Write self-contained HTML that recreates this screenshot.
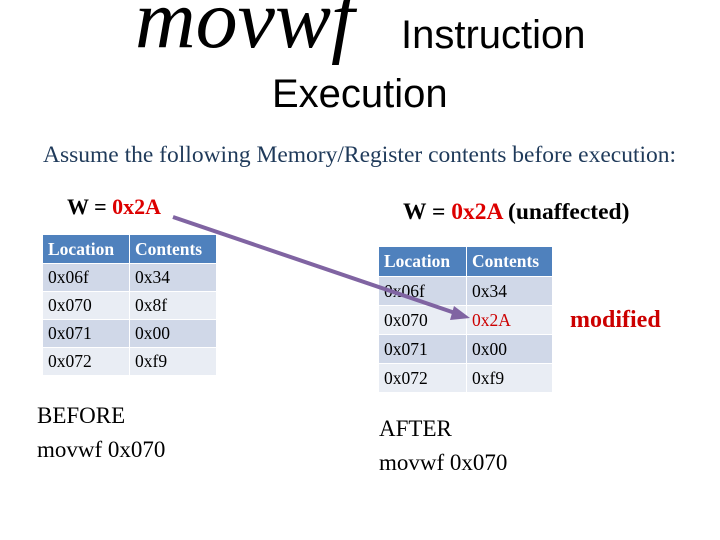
<!DOCTYPE html>
<html><head><style>
body{margin:0;width:720px;height:540px;background:#fff;position:relative;overflow:hidden;font-family:"Liberation Serif",serif}
.a{position:absolute;white-space:nowrap}
table{position:absolute;border-collapse:collapse;font-family:"Liberation Serif",serif;font-size:17.5px;table-layout:fixed}
td{border:1.5px solid #fff;padding:0 0 0 5px;height:28px;color:#000;box-sizing:border-box}
th{background:#4f81bd;color:#fff;text-align:left;font-weight:bold;padding:0 0 0 5px;border:1.5px solid #fff;height:29px;box-sizing:border-box}
tr.o td{background:#d0d8e8}tr.e td{background:#e9edf4}
</style></head><body>
<div class="a" style="left:135px;top:-22px;font-size:84px;line-height:1;font-style:italic;font-family:'Liberation Serif',serif">movwf</div>
<div class="a" style="left:401px;top:13px;font-size:40px;font-family:'Liberation Sans',sans-serif">Instruction</div>
<div class="a" style="left:272px;top:72px;font-size:40px;font-family:'Liberation Sans',sans-serif">Execution</div>
<div class="a" style="left:43px;top:142px;font-size:23.5px;color:#1f3a5a">Assume the following Memory/Register contents before execution:</div>
<div class="a" style="left:67px;top:194px;font-size:22px;font-weight:bold">W = <span style="color:#d00">0x2A</span></div>
<div class="a" style="left:403px;top:199px;font-size:23.5px;font-weight:bold">W = <span style="color:#d00">0x2A</span> (unaffected)</div>
<table style="left:42px;top:234px;width:175px">
<tr><th style="width:87px">Location</th><th>Contents</th></tr>
<tr class="o"><td>0x06f</td><td>0x34</td></tr>
<tr class="e"><td>0x070</td><td>0x8f</td></tr>
<tr class="o"><td>0x071</td><td>0x00</td></tr>
<tr class="e"><td>0x072</td><td>0xf9</td></tr>
</table>
<table style="left:378px;top:246px;width:175px">
<tr><th style="width:88px;height:30px">Location</th><th>Contents</th></tr>
<tr class="o"><td style="height:29px">0x06f</td><td>0x34</td></tr>
<tr class="e"><td style="height:29px">0x070</td><td style="color:#c00">0x2A</td></tr>
<tr class="o"><td style="height:29px">0x071</td><td>0x00</td></tr>
<tr class="e"><td style="height:29px">0x072</td><td>0xf9</td></tr>
</table>
<svg class="a" style="left:0;top:0" width="720" height="540">
<line x1="173" y1="217" x2="458" y2="314" stroke="#8064a2" stroke-width="4"/>
<polygon points="470,318 454,306 450,320" fill="#8064a2"/>
</svg>
<div class="a" style="left:570px;top:307px;font-size:24px;font-weight:bold;color:#c00">modified</div>
<div class="a" style="left:37px;top:399px;font-size:23px;line-height:34px">BEFORE<br>movwf 0x070</div>
<div class="a" style="left:379px;top:412px;font-size:23px;line-height:34px">AFTER<br>movwf 0x070</div>
</body></html>
